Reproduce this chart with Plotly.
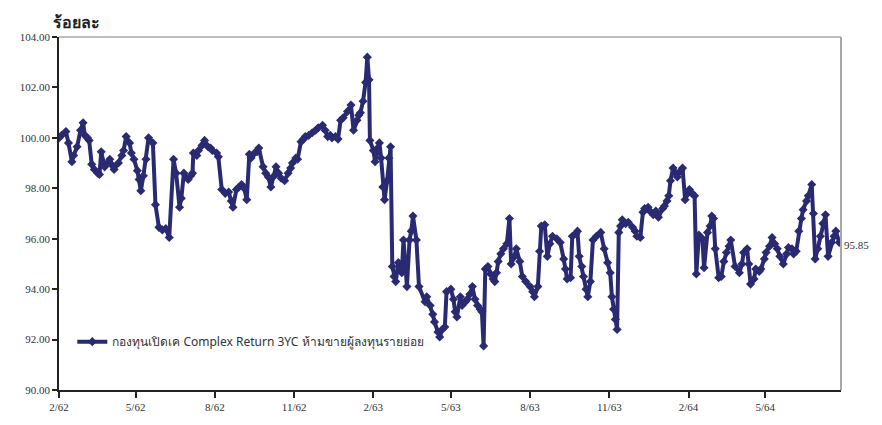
import plotly.graph_objects as go

dates = [
    "2019-02-01", "2019-02-04", "2019-02-09", "2019-02-12", "2019-02-16", "2019-02-18", "2019-02-22", "2019-02-26",
    "2019-03-01", "2019-03-03", "2019-03-06", "2019-03-08", "2019-03-11", "2019-03-14", "2019-03-18", "2019-03-20",
    "2019-03-22", "2019-03-26", "2019-03-29", "2019-04-01", "2019-04-04", "2019-04-06", "2019-04-11", "2019-04-15",
    "2019-04-17", "2019-04-20", "2019-04-24", "2019-04-26", "2019-04-29", "2019-05-03", "2019-05-05", "2019-05-07",
    "2019-05-10", "2019-05-13", "2019-05-16", "2019-05-21", "2019-05-24", "2019-05-28", "2019-06-01", "2019-06-05",
    "2019-06-09", "2019-06-14", "2019-06-17", "2019-06-21", "2019-06-23", "2019-06-26", "2019-07-01", "2019-07-04",
    "2019-07-06", "2019-07-07", "2019-07-11", "2019-07-13", "2019-07-17", "2019-07-20", "2019-07-24", "2019-07-27",
    "2019-07-29", "2019-08-03", "2019-08-05", "2019-08-09", "2019-08-13", "2019-08-17", "2019-08-20", "2019-08-22",
    "2019-08-26", "2019-08-29", "2019-09-01", "2019-09-04", "2019-09-07", "2019-09-10", "2019-09-12", "2019-09-16",
    "2019-09-19", "2019-09-21", "2019-09-26", "2019-09-29", "2019-10-02", "2019-10-05", "2019-10-09", "2019-10-11",
    "2019-10-14", "2019-10-17", "2019-10-21", "2019-10-25", "2019-10-28", "2019-10-30", "2019-11-03", "2019-11-05",
    "2019-11-09", "2019-11-12", "2019-11-14", "2019-11-18", "2019-11-22", "2019-11-26", "2019-11-29", "2019-12-04",
    "2019-12-07", "2019-12-10", "2019-12-13", "2019-12-15", "2019-12-19", "2019-12-22", "2019-12-25", "2019-12-28",
    "2020-01-02", "2020-01-06", "2020-01-09", "2020-01-13", "2020-01-15", "2020-01-17", "2020-01-20", "2020-01-23",
    "2020-01-25", "2020-01-27", "2020-01-28", "2020-02-01", "2020-02-03", "2020-02-06", "2020-02-08", "2020-02-10",
    "2020-02-12", "2020-02-14", "2020-02-17", "2020-02-19", "2020-02-21", "2020-02-23", "2020-02-25", "2020-02-27",
    "2020-03-01", "2020-03-03", "2020-03-05", "2020-03-07", "2020-03-11", "2020-03-14", "2020-03-16", "2020-03-18",
    "2020-03-22", "2020-03-25", "2020-04-01", "2020-04-03", "2020-04-07", "2020-04-10", "2020-04-12", "2020-04-16",
    "2020-04-18", "2020-04-21", "2020-04-24", "2020-04-26", "2020-05-01", "2020-05-04", "2020-05-06", "2020-05-08",
    "2020-05-12", "2020-05-14", "2020-05-18", "2020-05-20", "2020-05-23", "2020-05-26", "2020-05-29", "2020-06-01",
    "2020-06-04", "2020-06-06", "2020-06-08", "2020-06-10", "2020-06-13", "2020-06-16", "2020-06-19", "2020-06-21",
    "2020-06-23", "2020-06-25", "2020-06-28", "2020-07-01", "2020-07-05", "2020-07-08", "2020-07-10", "2020-07-14",
    "2020-07-16", "2020-07-20", "2020-07-23", "2020-07-27", "2020-08-01", "2020-08-04", "2020-08-06", "2020-08-10",
    "2020-08-12", "2020-08-14", "2020-08-18", "2020-08-21", "2020-08-24", "2020-08-27", "2020-09-01", "2020-09-05",
    "2020-09-09", "2020-09-11", "2020-09-13", "2020-09-17", "2020-09-19", "2020-09-23", "2020-09-25", "2020-09-27",
    "2020-09-30", "2020-10-02", "2020-10-05", "2020-10-07", "2020-10-10", "2020-10-13", "2020-10-17", "2020-10-22",
    "2020-10-26", "2020-10-30", "2020-11-02", "2020-11-04", "2020-11-06", "2020-11-08", "2020-11-10", "2020-11-12",
    "2020-11-14", "2020-11-16", "2020-11-20", "2020-11-23", "2020-11-28", "2020-12-01", "2020-12-03", "2020-12-07",
    "2020-12-10", "2020-12-12", "2020-12-16", "2020-12-18", "2020-12-22", "2020-12-25", "2020-12-28", "2021-01-02",
    "2021-01-04", "2021-01-07", "2021-01-09", "2021-01-11", "2021-01-14", "2021-01-17", "2021-01-19", "2021-01-23",
    "2021-01-25", "2021-01-28", "2021-01-31", "2021-02-02", "2021-02-05", "2021-02-08", "2021-02-10", "2021-02-13",
    "2021-02-17", "2021-02-19", "2021-02-23", "2021-02-26", "2021-02-28", "2021-03-02", "2021-03-04", "2021-03-08",
    "2021-03-11", "2021-03-14", "2021-03-17", "2021-03-20", "2021-03-22", "2021-03-27", "2021-04-01", "2021-04-04",
    "2021-04-06", "2021-04-10", "2021-04-12", "2021-04-14", "2021-04-18", "2021-04-20", "2021-04-24", "2021-04-26",
    "2021-04-30", "2021-05-02", "2021-05-06", "2021-05-09", "2021-05-12", "2021-05-15", "2021-05-18", "2021-05-22",
    "2021-05-26", "2021-05-28", "2021-06-01", "2021-06-03", "2021-06-06", "2021-06-09", "2021-06-12", "2021-06-14",
    "2021-06-18", "2021-06-20", "2021-06-24", "2021-06-26", "2021-06-28", "2021-07-01", "2021-07-04", "2021-07-07",
    "2021-07-10", "2021-07-13", "2021-07-17", "2021-07-20", "2021-07-22", "2021-07-26",
]

nav = [
    100.00, 100.10, 100.25, 99.80, 99.05, 99.30, 99.65, 100.30,
    100.60, 100.10, 100.00, 99.90, 98.95, 98.75, 98.60, 98.55,
    99.45, 98.85, 99.00, 99.15, 98.90, 98.75, 99.00, 99.30,
    99.50, 100.05, 99.80, 99.40, 99.15, 98.70, 98.35, 97.90,
    98.50, 99.15, 100.00, 99.80, 97.35, 96.45, 96.35, 96.40,
    96.05, 99.15, 98.60, 97.25, 97.60, 98.60, 98.35, 98.50,
    98.60, 99.40, 99.30, 99.50, 99.70, 99.90, 99.65, 99.60,
    99.50, 99.40, 99.25, 97.95, 97.80, 97.85, 97.50, 97.25,
    97.95, 98.05, 98.15, 98.00, 97.55, 99.35, 99.20, 99.40,
    99.45, 99.60, 98.85, 98.60, 98.45, 98.05, 98.50, 98.85,
    98.60, 98.40, 98.30, 98.60, 98.80, 99.00, 99.20, 99.15,
    99.85, 99.95, 100.05, 100.10, 100.20, 100.30, 100.40, 100.50,
    100.30, 100.05, 100.10, 100.00, 100.05, 99.95, 100.70, 100.80,
    101.05, 101.30, 100.30, 100.70, 100.90, 101.00, 101.45, 102.20,
    103.20, 102.30, 99.90, 99.50, 99.05, 99.60, 99.80, 99.20,
    98.05, 97.55, 98.30, 99.20, 99.65, 94.90, 94.50, 94.30,
    95.05, 94.80, 94.65, 95.95, 94.10, 95.95, 96.30, 96.90,
    95.95, 94.10, 93.50, 93.70, 93.35, 93.00, 92.70, 92.30,
    92.10, 92.40, 92.50, 93.90, 94.00, 93.60, 93.10, 92.90,
    93.70, 93.35, 93.50, 93.60, 93.80, 94.10, 93.60, 93.35,
    93.20, 93.10, 91.75, 94.80, 94.90, 94.60, 94.40, 94.30,
    94.65, 95.10, 95.40, 95.60, 95.80, 96.80, 95.00, 95.30,
    95.60, 95.10, 94.50, 94.30, 94.10, 93.90, 93.70, 94.10,
    95.50, 96.50, 96.55, 95.30, 95.80, 96.10, 96.00, 95.85,
    95.20, 94.80, 94.40, 94.45, 96.10, 96.20, 96.30, 95.30,
    94.90, 94.50, 94.00, 93.70, 94.30, 95.95, 96.10, 96.25,
    95.60, 95.05, 94.65, 93.70, 93.20, 92.80, 92.40, 96.25,
    96.50, 96.75, 96.60, 96.65, 96.45, 96.30, 96.10, 96.05,
    97.05, 97.20, 97.25, 97.10, 96.95, 97.10, 96.85, 97.20,
    97.30, 97.50, 97.70, 98.30, 98.80, 98.60, 98.45, 98.70,
    98.80, 97.55, 97.80, 97.95, 97.80, 97.70, 94.60, 96.15,
    96.00, 94.85, 96.25, 96.50, 96.90, 96.80, 95.60, 94.45,
    94.50, 95.10, 95.45, 95.70, 95.95, 94.90, 94.65, 95.00,
    95.45, 95.60, 95.00, 94.20, 94.40, 94.80, 94.70, 94.80,
    95.20, 95.45, 95.70, 96.05, 95.80, 95.60, 95.30, 95.00,
    95.40, 95.65, 95.60, 95.40, 95.50, 96.30, 96.80, 97.15,
    97.50, 97.70, 98.15, 97.00, 95.20, 95.60, 96.10, 96.60,
    96.95, 95.30, 95.85, 96.10, 96.30, 95.85,
]

series_name = "กองทุนเปิดเค Complex Return 3YC ห้ามขายผู้ลงทุนรายย่อย"
y_title = "ร้อยละ"
tick_dates = ["2019-02-01", "2019-05-01", "2019-08-01", "2019-11-01", "2020-02-01",
              "2020-05-01", "2020-08-01", "2020-11-01", "2021-02-01", "2021-05-01"]
tick_labels = ["2/62", "5/62", "8/62", "11/62", "2/63", "5/63", "8/63", "11/63", "2/64", "5/64"]
y_ticks = [90, 92, 94, 96, 98, 100, 102, 104]

navy = "#2a2a72"
serif = "Liberation Serif"

fig = go.Figure()
fig.add_trace(go.Scatter(
    x=dates, y=nav, mode="lines+markers", name=series_name,
    line=dict(color=navy, width=4),
    marker=dict(symbol="diamond", size=7, color=navy),
))

fig.add_annotation(x=1, xref="paper", y=nav[-1], text=f"{nav[-1]:.2f}", showarrow=False,
                   xanchor="left", xshift=1, yshift=-2,
                   font=dict(family=serif, size=11, color="#333333"))
fig.add_annotation(x=0, y=1, xref="paper", yref="paper", text=f"<b>{y_title}</b>",
                   showarrow=False, xanchor="left", yanchor="bottom", xshift=-8, yshift=2,
                   font=dict(family="Noto Sans", size=16, color="#222222"))

# top and right frame lines (grey)
fig.add_shape(type="line", xref="paper", yref="paper", x0=0, x1=1, y0=1, y1=1,
              line=dict(color="#a8a8a8", width=1.5))
fig.add_shape(type="line", xref="paper", yref="paper", x0=1, x1=1, y0=0, y1=1,
              line=dict(color="#a8a8a8", width=2))

fig.update_layout(
    width=874, height=417,
    margin=dict(l=47, r=41, t=29, b=26),
    plot_bgcolor="white", paper_bgcolor="white",
    showlegend=True,
    legend=dict(x=0.017, y=0.178, xanchor="left", yanchor="top",
                bgcolor="rgba(0,0,0,0)",
                font=dict(family="Noto Sans", size=12, color="#333333")),
    xaxis=dict(
        type="date", range=["2019-02-01", "2021-07-28"],
        tickmode="array", tickvals=tick_dates, ticktext=tick_labels,
        showgrid=False, zeroline=False,
        showline=True, linecolor="#222222", linewidth=1.5,
        ticks="outside", ticklen=6, tickcolor="#222222", tickwidth=1.5,
        tickfont=dict(family=serif, size=11, color="#333333"),
    ),
    yaxis=dict(
        range=[90, 104], tickmode="array", tickvals=y_ticks,
        tickformat=".2f",
        showgrid=False, zeroline=False,
        showline=True, linecolor="#222222", linewidth=1.5,
        ticks="outside", ticklen=5, tickcolor="#222222", tickwidth=1.5,
        tickfont=dict(family=serif, size=11, color="#333333"),
    ),
)

fig.write_html("out.html")
